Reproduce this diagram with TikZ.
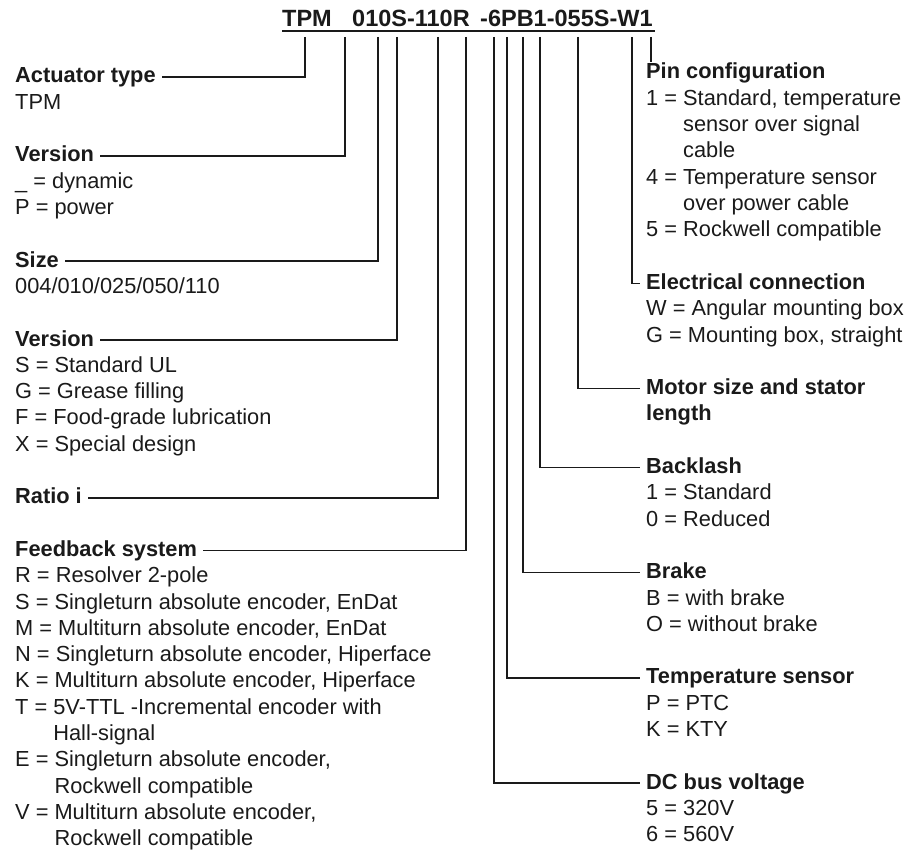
\documentclass[tikz,border=0pt]{standalone}
\usepackage{fontspec}
\setmainfont{Liberation Sans}
\definecolor{ink}{HTML}{1A1A1A}
\newcommand\mylines[1]{\begin{tabular}[t]{@{}l@{}}#1\end{tabular}}
\begin{document}
\begin{tikzpicture}[x=1pt,y=-1pt,
  head/.style={font=\fontsize{21.8}{26.3}\selectfont\bfseries, text=ink, inner xsep=6pt, inner ysep=0pt, text height=12pt, text depth=0pt, anchor=base west},
  body/.style={font=\fontsize{21.8}{26.3}\selectfont, text=ink, inner sep=0pt, anchor=base west},
  codetxt/.style={font=\fontsize{23.5}{28}\selectfont\bfseries, text=ink, inner sep=0pt, anchor=base west},
  conn/.style={draw=ink, line width=1.4pt},
]
\path[use as bounding box] (0,0) rectangle (905,850);

% type code
\node[codetxt] (c1) at (282,27) {TPM};
\node[codetxt] (c2) at (352,27) {010S-110R};
\node[codetxt] (c3) at (480,27) {-6PB1-055S-W1};
\coordinate (ulL) at (282,31);
\coordinate (ulR) at (655,31);
\draw[ink, line width=2pt] (ulL) -- (ulR);

% connector tops
\coordinate (k1) at (305,37);
\coordinate (k2) at (345,37);
\coordinate (k3) at (378,37);
\coordinate (k4) at (397,37);
\coordinate (k5) at (438,37);
\coordinate (k6) at (466,37);
\coordinate (k7) at (494,37);
\coordinate (k8) at (507,37);
\coordinate (k9) at (523,37);
\coordinate (k10) at (540,37);
\coordinate (k11) at (578,37);
\coordinate (k12) at (632,37);
\coordinate (k13) at (651,37);

% left column
\node[head] (hAct) at (9,83) {Actuator type};
\node[body] (bAct) at (15,109.3) {TPM};
\node[head] (hVer1) at (9,161.9) {Version};
\node[body] (bVer1) at (15,188.2) {\mylines{\_ = dynamic\\ P = power}};
\node[head] (hSize) at (9,267.1) {Size};
\node[body] (bSize) at (15,293.4) {004/010/025/050/110};
\node[head] (hVer2) at (9,346) {Version};
\node[body] (bVer2) at (15,372.3) {\mylines{S = Standard UL\\ G = Grease filling\\ F = Food-grade lubrication\\ X = Special design}};
\node[head] (hRatio) at (9,503.8) {Ratio i};
\node[head] (hFb) at (9,556.4) {Feedback system};
\node[body] (bFb) at (15,582.7) {\mylines{R = Resolver 2-pole\\
 S = Singleturn absolute encoder, EnDat\\
 M = Multiturn absolute encoder, EnDat\\
 N = Singleturn absolute encoder, Hiperface\\
 K = Multiturn absolute encoder, Hiperface\\
 T = 5V-TTL -Incremental encoder with\\
 \hphantom{T = }Hall-signal\\
 E = Singleturn absolute encoder,\\
 \hphantom{E = }Rockwell compatible\\
 V = Multiturn absolute encoder,\\
 \hphantom{E = }Rockwell compatible}};

% right column
\node[head] (hPin) at (640,79) {Pin configuration};
\node[body] (bPin) at (646,105.3) {\mylines{1 = Standard, temperature\\
 \hphantom{1 = }sensor over signal\\
 \hphantom{1 = }cable\\
 4 = Temperature sensor\\
 \hphantom{4 = }over power cable\\
 5 = Rockwell compatible}};
\node[head] (hElec) at (640,289.4) {Electrical connection};
\node[body] (bElec) at (646,315.7) {\mylines{W = Angular mounting box\\ G = Mounting box, straight}};
\node[head] (hMot) at (640,394.6) {Motor size and stator};
\node[body, font=\fontsize{21.8}{26.3}\selectfont\bfseries] (bMot) at (646,420.9) {length};
\node[head] (hBack) at (640,473.5) {Backlash};
\node[body] (bBack) at (646,499.8) {\mylines{1 = Standard\\ 0 = Reduced}};
\node[head] (hBrake) at (640,578.7) {Brake};
\node[body] (bBrake) at (646,605) {\mylines{B = with brake\\ O = without brake}};
\node[head] (hTemp) at (640,683.9) {Temperature sensor};
\node[body] (bTemp) at (646,710.2) {\mylines{P = PTC\\ K = KTY}};
\node[head] (hDC) at (640,789.1) {DC bus voltage};
\node[body] (bDC) at (646,815.4) {\mylines{5 = 320V\\ 6 = 560V}};

% connectors left
\draw[conn] (k1) |- (hAct.east);
\draw[conn] (k2) |- (hVer1.east);
\draw[conn] (k3) |- (hSize.east);
\draw[conn] (k4) |- (hVer2.east);
\draw[conn] (k5) |- (hRatio.east);
\draw[conn] (k6) |- (hFb.east);
% connectors right
\draw[conn] (k7) |- (hDC.west);
\draw[conn] (k8) |- (hTemp.west);
\draw[conn] (k9) |- (hBrake.west);
\draw[conn] (k10) |- (hBack.west);
\draw[conn] (k11) |- (hMot.west);
\draw[conn] (k12) |- (hElec.west);
\draw[conn, shorten >=5pt] (k13) -- (k13 |- hPin.north);
\end{tikzpicture}
\end{document}
